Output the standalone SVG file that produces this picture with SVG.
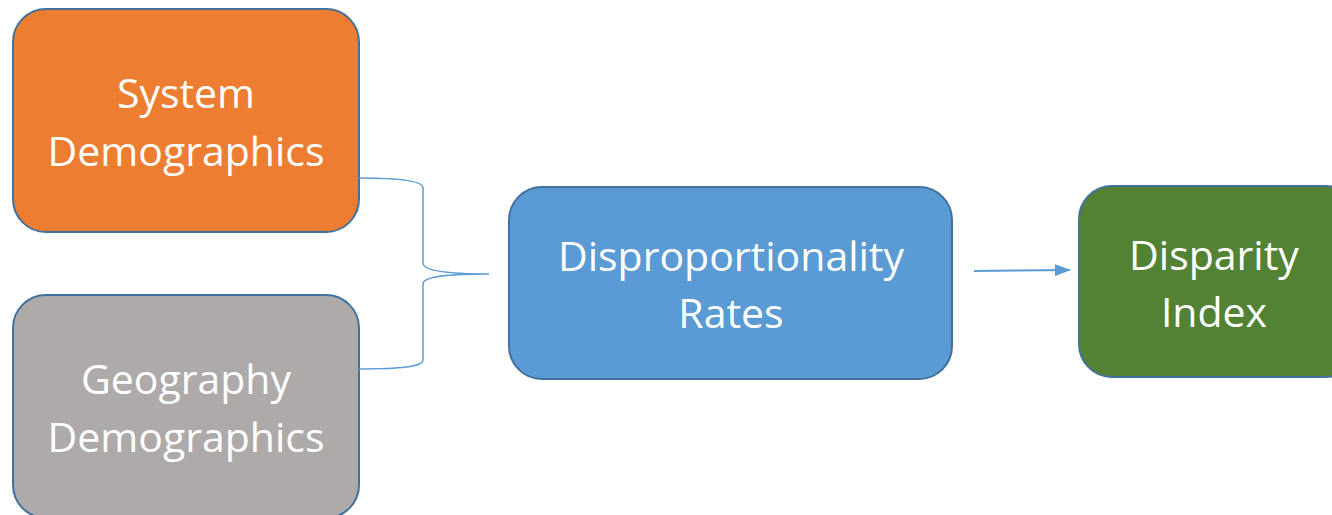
<svg xmlns="http://www.w3.org/2000/svg" width="1332" height="515" viewBox="0 0 1332 515">
  <defs>
    <marker id="arrowhead" markerWidth="16" markerHeight="12" refX="15" refY="6" orient="auto" markerUnits="userSpaceOnUse">
      <path d="M0,0 L16,6 L0,12 Z" fill="#5B9BD5"/>
    </marker>
    <style>
      .box { stroke: #41719C; stroke-width: 2; }
      .label { font-family: "Open Sans", "Liberation Sans", sans-serif; font-size: 41px; fill: #FFFFFF; text-anchor: middle; }
      .link { fill: none; stroke: #5B9BD5; stroke-width: 1.5; }
      .arrow { fill: none; stroke: #5B9BD5; stroke-width: 2; }
    </style>
  </defs>
  <rect width="1332" height="515" fill="#FFFFFF"/>

  <g id="system-demographics">
    <rect class="box" x="13" y="9" width="346" height="223" rx="33" ry="33" fill="#ED7D31"/>
    <text class="label" x="186" y="108">System</text>
    <text class="label" x="186" y="166">Demographics</text>
  </g>

  <g id="geography-demographics">
    <rect class="box" x="13" y="295" width="346" height="223" rx="33" ry="33" fill="#AEAAAA"/>
    <text class="label" x="186" y="394">Geography</text>
    <text class="label" x="186" y="452">Demographics</text>
  </g>

  <g id="disproportionality-rates">
    <rect class="box" x="509" y="187" width="443" height="192" rx="33" ry="33" fill="#5B9BD5"/>
    <text class="label" x="731" y="271">Disproportionality</text>
    <text class="label" x="731" y="328">Rates</text>
  </g>

  <g id="disparity-index">
    <rect class="box" x="1079" y="186" width="280" height="191" rx="33" ry="33" fill="#548235"/>
    <text class="label" x="1214" y="270">Disparity</text>
    <text class="label" x="1214" y="327">Index</text>
  </g>

  <g id="connectors">
    <!-- brace joining both demographic boxes -->
    <path class="link" d="M359,178 C400,178 423,181 423,188 L423,263 C423,271 450,274 489,274 C450,274 423,276 423,284 L423,360 C423,367 400,369 359,369"/>
    <!-- rates to index -->
    <line class="arrow" x1="974" y1="271" x2="1070" y2="270" marker-end="url(#arrowhead)"/>
  </g>
</svg>
